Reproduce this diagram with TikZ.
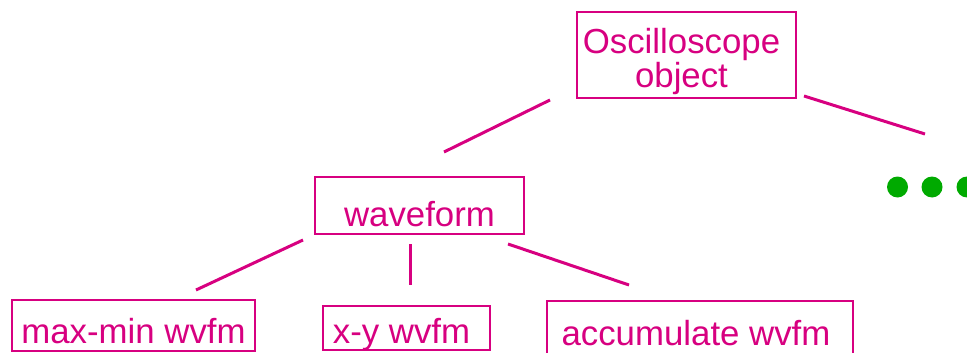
\documentclass[tikz,border=0pt]{standalone}
\usepackage{fontspec}
\setmainfont{Liberation Sans}
\definecolor{mag}{RGB}{215,0,128}
\definecolor{grn}{RGB}{0,170,0}
\begin{document}
\begin{tikzpicture}[x=1pt,y=-1pt,
  box/.style={draw=mag, line width=2.5pt, text=mag, inner sep=0pt, font=\fontsize{34.8}{30}\selectfont},
  link/.style={draw=mag, line width=3pt},
  dotnode/.style={circle, fill=grn, inner sep=0pt, minimum size=21pt}]
\useasboundingbox (0,0) rectangle (967,353);
\clip (0,0) rectangle (967,353);
\node[box, minimum width=219pt, minimum height=86pt, text height=34pt, text depth=36pt] (osc) at (686.5,55)
  {\parbox[t]{209pt}{\centering Oscilloscope\\object}\hspace*{10pt}};
\node[box, minimum width=209pt, minimum height=57pt, text height=41pt, text depth=0pt] (wave) at (419.5,205.5) {waveform};
\node[box, minimum width=243pt, minimum height=51pt, text height=35pt, text depth=0pt] (maxmin) at (133.5,325.5) {max-min wvfm};
\node[box, minimum width=167pt, minimum height=44pt, text height=30pt, text depth=0pt] (xy) at (406.5,328) {x-y wvfm\hspace*{10pt}};
\node[box, minimum width=306pt, minimum height=64pt, text height=24pt, text depth=0pt] (acc) at (700,333) {accumulate wvfm\hspace*{8pt}};
\node[dotnode] (d1) at (897.5,187) {};
\node[dotnode] (d2) at (932,187) {};
\node[dotnode] (d3) at (967,187) {};
\coordinate (oa) at (550,100);
\coordinate (wa) at (444,152);
\coordinate (ob) at (804,96);
\coordinate (rb) at (925,134);
\coordinate (w1) at (303,240);
\coordinate (m1) at (196,290);
\coordinate (w2) at (410,244);
\coordinate (x2) at (410,285);
\coordinate (w3) at (508,244);
\coordinate (a3) at (629,285);
\draw[link] (oa) -- (wa);
\draw[link] (ob) -- (rb);
\draw[link] (w1) -- (m1);
\draw[link] (w2) -- (x2);
\draw[link] (w3) -- (a3);
\end{tikzpicture}
\end{document}
